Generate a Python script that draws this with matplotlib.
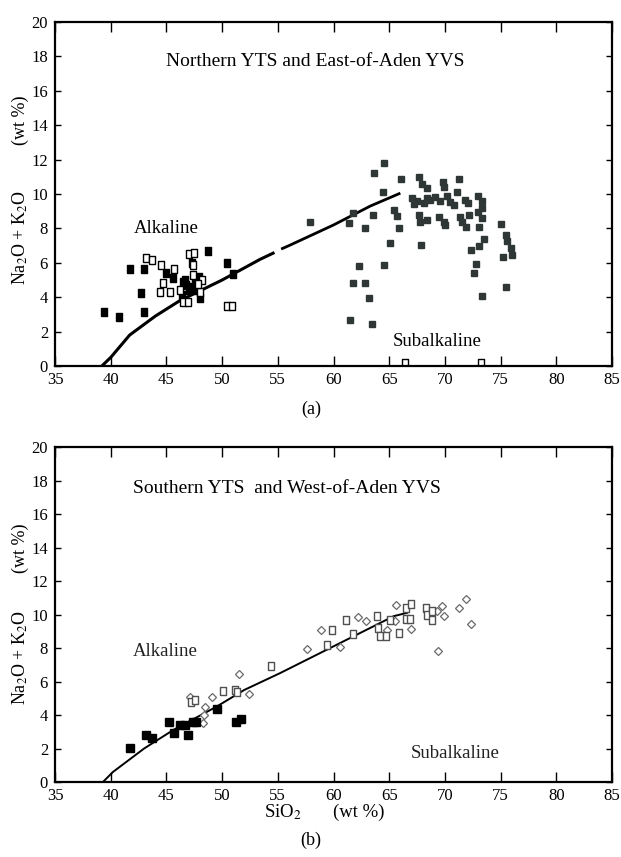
import numpy as np
import matplotlib
matplotlib.use("Agg")
import matplotlib.pyplot as plt

plt.rcParams['font.family'] = ['Liberation Serif', 'DejaVu Serif']
plt.rcParams['mathtext.fontset'] = 'stix'

# ---- panel (a) data: Northern YTS and East-of-Aden YVS ----
# alkaline / subalkaline boundary (drawn with a small break near 55 %)
boundaryA1Si = [39.2, 40.0, 41.7, 44.0, 46.2, 50.0, 53.4, 54.7]
boundaryA1Alk = [0.0, 0.5, 1.8, 2.9, 3.8, 5.0, 6.2, 6.6]
boundaryA2Si = [55.3, 56.0, 60.0, 63.3, 66.0]
boundaryA2Alk = [6.8, 7.0, 8.2, 9.3, 10.05]

yvsFilledSi = [39.4, 40.7, 41.7, 43.0, 42.7, 43.0, 48.7, 50.4, 51.0, 45.0, 45.6, 46.5,
               46.8, 47.1, 47.6, 47.9, 46.4, 47.3, 48.0, 47.0, 46.7, 47.5]
yvsFilledAlk = [3.15, 2.85, 5.65, 5.65, 4.25, 3.15, 6.7, 6.0, 5.35, 5.4, 5.1, 4.9,
                4.7, 4.6, 4.8, 5.2, 4.15, 6.0, 3.95, 4.4, 5.0, 4.4]

yvsOpenSi = [43.2, 43.7, 44.5, 45.7, 44.7, 44.4, 45.3, 46.2, 46.5, 46.9, 47.0, 47.5,
             47.4, 47.4, 48.2, 48.0, 50.4, 50.9, 47.8, 66.4, 73.2]
yvsOpenAlk = [6.3, 6.15, 5.85, 5.65, 4.8, 4.3, 4.3, 4.4, 3.75, 3.75, 6.5, 6.6,
              5.85, 5.3, 5.0, 4.3, 3.5, 3.5, 4.75, 0.15, 0.15]

ytsSi = [63.6, 64.5, 66.05, 64.4, 67.7, 67.9, 68.4, 69.8, 69.9, 71.3,
         67.05, 67.5, 68.1, 68.7, 69.1, 69.6, 70.2, 70.5, 71.1, 71.8, 72.1, 73.0, 73.3, 73.3,
         70.8, 67.2, 68.4,
         61.75, 61.35, 63.55, 62.8, 65.4, 65.7, 65.85, 67.7, 67.8, 68.4, 69.5, 69.9, 70.05,
         71.4, 71.5, 71.85, 72.15, 72.95, 73.3, 73.05, 57.85,
         75.0, 75.45, 75.6, 75.9, 76.05, 75.2, 75.45, 73.55, 73.1, 72.3, 72.75, 72.65, 73.35, 67.85,
         65.1, 64.55, 62.25, 61.75, 62.8, 63.15, 61.5, 63.45]
ytsAlk = [11.25, 11.8, 10.85, 10.1, 11.0, 10.6, 10.35, 10.7, 10.4, 10.85,
          9.75, 9.6, 9.5, 9.65, 9.85, 9.6, 9.9, 9.55, 10.1, 9.65, 9.5, 9.9, 9.6, 9.2,
          9.35, 9.4, 9.75,
          8.9, 8.3, 8.8, 8.0, 9.05, 8.7, 8.05, 8.8, 8.4, 8.5, 8.65, 8.35, 8.2,
          8.65, 8.35, 8.1, 8.8, 8.95, 8.6, 8.1, 8.4,
          8.25, 7.6, 7.25, 6.85, 6.45, 6.35, 4.6, 7.4, 7.0, 6.75, 5.95, 5.4, 4.05, 7.05,
          7.15, 5.85, 5.8, 4.8, 4.8, 3.95, 2.7, 2.45]

# ---- panel (b) data: Southern YTS and West-of-Aden YVS ----
boundaryBSi = [39.3, 40.2, 43.0, 45.6, 49.5, 52.0, 55.2, 59.1, 63.3, 65.4, 66.6]
boundaryBAlk = [0.0, 0.6, 2.0, 3.1, 4.5, 5.5, 6.5, 7.8, 9.2, 9.9, 10.1]

southFilledSi = [41.7, 43.2, 43.7, 45.2, 45.7, 46.2, 46.7, 46.9, 47.4, 47.7, 49.5, 51.25, 51.7]
southFilledAlk = [2.05, 2.8, 2.6, 3.6, 2.95, 3.4, 3.4, 2.8, 3.6, 3.6, 4.35, 3.6, 3.75]

southOpenSi = [47.2, 47.6, 50.1, 51.2, 51.35, 54.4, 59.4, 59.9, 61.15, 61.75, 63.9, 64.0,
               64.15, 64.75, 65.05, 65.85, 66.55, 67.0, 66.55, 66.9, 68.3, 68.4, 68.85, 68.85]
southOpenAlk = [4.75, 4.9, 5.45, 5.5, 5.4, 6.95, 8.2, 9.05, 9.65, 8.85, 9.9, 9.2,
                8.7, 8.7, 9.7, 8.9, 10.4, 10.65, 9.75, 9.75, 10.4, 10.0, 10.2, 9.7]

southDiamondSi = [47.1, 51.55, 52.45, 49.1, 48.5, 48.35, 48.3, 57.6, 58.9, 60.6, 62.2, 62.95,
                  64.8, 65.55, 65.65, 67.0, 69.3, 69.75, 69.9, 69.4, 71.25, 71.85, 72.3]
southDiamondAlk = [5.1, 6.45, 5.25, 5.1, 4.5, 4.0, 3.5, 7.95, 9.1, 8.05, 9.85, 9.6,
                   9.1, 9.6, 10.55, 9.15, 10.2, 10.5, 9.9, 7.8, 10.4, 10.9, 9.45]

xTicks = list(range(35, 90, 5))
yTicks = list(range(0, 22, 2))

tallBox = [(-0.72, -1), (0.72, -1), (0.72, 1), (-0.72, 1), (-0.72, -1)]


def styleAxes(ax):
    ax.set_xlim(35, 85)
    ax.set_ylim(0, 20)
    ax.set_xticks(xTicks)
    ax.set_yticks(yTicks)
    ax.tick_params(axis='x', direction='in', top=True, length=7, width=1, pad=4, labelsize=12)
    ax.tick_params(axis='y', direction='in', right=True, length=4, width=1, pad=5, labelsize=12)
    for s in ax.spines.values():
        s.set_linewidth(1.6)


fig = plt.figure(figsize=(6.21, 8.57), dpi=100)

# ---------------- (a) ----------------
axA = fig.add_axes([0.0886, 0.5729, 0.8969, 0.4014])
styleAxes(axA)
axA.plot(boundaryA1Si, boundaryA1Alk, color='black', lw=2.2, solid_capstyle='butt')
axA.plot(boundaryA2Si, boundaryA2Alk, color='black', lw=2.0, solid_capstyle='butt')
axA.plot(ytsSi, ytsAlk, ls='none', marker='s', ms=4.4, color='#2e3636', mec='#2e3636')
axA.plot(yvsFilledSi, yvsFilledAlk, ls='none', marker=tallBox, ms=5.8, color='black')
axA.plot(yvsOpenSi, yvsOpenAlk, ls='none', marker=tallBox, ms=6.2, mfc='white', mec='black', mew=1.0)
axA.text(58.4, 17.7, 'Northern YTS and East-of-Aden YVS', fontsize=14, ha='center', va='center')
axA.text(45.0, 7.97, 'Alkaline', fontsize=13.5, ha='center', va='center')
axA.text(69.3, 1.45, 'Subalkaline', fontsize=13.5, ha='center', va='center')

fig.text(0.032, 0.86, '(wt %)', rotation=90, fontsize=13, ha='center', va='center')
fig.text(0.032, 0.7235, 'Na$_2$O + K$_2$O', rotation=90, fontsize=13, ha='center', va='center')
fig.text(0.5008, 0.5228, '(a)', fontsize=13, ha='center', va='center')

# ---------------- (b) ----------------
axB = fig.add_axes([0.0886, 0.0875, 0.8969, 0.3909])
styleAxes(axB)
axB.plot(boundaryBSi, boundaryBAlk, color='black', lw=1.4)
axB.plot(southDiamondSi, southDiamondAlk, ls='none', marker='D', ms=3.8, mfc='white', mec='#6a6a6a', mew=0.9)
axB.plot(southOpenSi, southOpenAlk, ls='none', marker=tallBox, ms=5.2, mfc='white', mec='#505050', mew=1.0)
axB.plot(southFilledSi, southFilledAlk, ls='none', marker='s', ms=6.0, color='black')
axB.text(55.8, 17.5, 'Southern YTS  and West-of-Aden YVS', fontsize=14, ha='center', va='center')
axB.text(44.9, 7.8, 'Alkaline', fontsize=13.5, ha='center', va='center', color='#222222')
axB.text(70.9, 1.68, 'Subalkaline', fontsize=13.5, ha='center', va='center', color='#222222')

fig.text(0.032, 0.3606, '(wt %)', rotation=90, fontsize=13, ha='center', va='center')
fig.text(0.032, 0.2334, 'Na$_2$O + K$_2$O', rotation=90, fontsize=13, ha='center', va='center')
fig.text(0.4557, 0.0525, 'SiO$_2$', fontsize=13.5, ha='center', va='center')
fig.text(0.578, 0.0525, '(wt %)', fontsize=13.5, ha='center', va='center')
fig.text(0.5008, 0.0198, '(b)', fontsize=13, ha='center', va='center')

fig.savefig('out.png', dpi=100)
